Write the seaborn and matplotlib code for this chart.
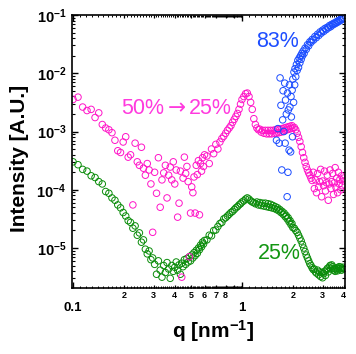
import numpy as np
import matplotlib
matplotlib.use('Agg')
import matplotlib.pyplot as plt
import seaborn as sns
from matplotlib.ticker import FixedLocator, FixedFormatter, NullFormatter, NullLocator, LogLocator

# q grid shared by the 25% and 50%->25% curves [nm^-1]
q = [0.100, 0.107, 0.114, 0.121, 0.128, 0.135, 0.142, 0.149, 0.156, 0.163,
     0.170, 0.177, 0.184, 0.191, 0.198, 0.205, 0.212, 0.219, 0.226, 0.233,
     0.240, 0.247, 0.254, 0.261, 0.268, 0.275, 0.282, 0.289, 0.296,
     0.304, 0.312, 0.320, 0.328, 0.336, 0.344, 0.352, 0.360, 0.368, 0.376,
     0.384, 0.392, 0.400, 0.408, 0.416, 0.424, 0.432, 0.440, 0.448, 0.456,
     0.464, 0.472, 0.480, 0.488, 0.496, 0.504, 0.512, 0.520, 0.528, 0.536,
     0.544, 0.552, 0.560, 0.568, 0.576, 0.584, 0.592, 0.600,
     0.62, 0.64, 0.66, 0.68, 0.70, 0.72, 0.74, 0.76, 0.78, 0.80,
     0.82, 0.84, 0.86, 0.88, 0.90, 0.92, 0.94, 0.96, 0.98, 1.00,
     1.025, 1.050, 1.075, 1.100, 1.125, 1.150, 1.175, 1.200, 1.225, 1.250,
     1.275, 1.300, 1.325, 1.350, 1.375, 1.400, 1.425, 1.450, 1.475, 1.500,
     1.525, 1.550, 1.575, 1.600, 1.625, 1.650, 1.675, 1.700, 1.725, 1.750,
     1.775, 1.800, 1.825, 1.850, 1.875, 1.900, 1.925, 1.950, 1.975, 2.000,
     2.04, 2.08, 2.12, 2.16, 2.20, 2.24, 2.28, 2.32, 2.36, 2.40,
     2.44, 2.48, 2.52, 2.56, 2.60, 2.64, 2.68, 2.72, 2.76, 2.80,
     2.84, 2.88, 2.92, 2.96, 3.00, 3.04, 3.08, 3.12, 3.16, 3.20,
     3.24, 3.28, 3.32, 3.36, 3.40, 3.44, 3.48, 3.52, 3.56, 3.60,
     3.64, 3.68, 3.72, 3.76, 3.80, 3.84, 3.88, 3.92, 3.96, 4.00]

# log10 of intensity
green_log10 = [-3.52, -3.57, -3.65, -3.68, -3.76, -3.79, -3.86, -3.90, -4.03, -4.06,
               -4.14, -4.18, -4.26, -4.31, -4.39, -4.45, -4.53, -4.56, -4.66, -4.62,
               -4.78, -4.74, -4.90, -4.86, -5.02, -5.10, -5.05, -5.20, -5.17,
               -5.28, -5.45, -5.22, -5.38, -5.50, -5.30, -5.42, -5.25, -5.36, -5.52,
               -5.30, -5.40, -5.33, -5.24, -5.38, -5.29, -5.45, -5.26, -5.32, -5.20,
               -5.28, -5.18, -5.24, -5.15, -5.22, -5.12, -5.17, -5.08, -5.13, -5.04,
               -5.09, -5.00, -5.03, -4.95, -4.98, -4.90, -4.93, -4.87,
               -4.86, -4.78, -4.79, -4.70, -4.69, -4.63, -4.58, -4.56, -4.50, -4.48,
               -4.45, -4.42, -4.39, -4.37, -4.34, -4.31, -4.29, -4.26, -4.24, -4.21,
               -4.19, -4.16, -4.14, -4.16, -4.19, -4.21, -4.22, -4.24, -4.21, -4.26,
               -4.22, -4.27, -4.23, -4.28, -4.23, -4.29, -4.24, -4.30, -4.25, -4.31,
               -4.27, -4.32, -4.29, -4.34, -4.31, -4.36, -4.34, -4.39, -4.37, -4.42,
               -4.40, -4.46, -4.44, -4.50, -4.48, -4.55, -4.53, -4.60, -4.58, -4.65,
               -4.66, -4.70, -4.73, -4.78, -4.83, -4.88, -4.94, -5.00, -5.06, -5.12,
               -5.17, -5.22, -5.27, -5.30, -5.34, -5.37, -5.36, -5.41, -5.43, -5.38,
               -5.46, -5.41, -5.49, -5.42, -5.51, -5.44, -5.40, -5.47, -5.38, -5.35,
               -5.41, -5.33, -5.30, -5.36, -5.29, -5.32, -5.38, -5.35, -5.40, -5.37,
               -5.34, -5.39, -5.35, -5.32, -5.36, -5.33, -5.38, -5.35, -5.33, -5.36]

magenta_log10 = [-2.45, -2.41, -2.58, -2.64, -2.62, -2.76, -2.68, -2.88, -2.94, -2.97,
                 -3.02, -3.15, -3.33, -3.36, -3.18, -3.09, -3.44, -3.40, -4.26, -3.20,
                 -3.52, -3.58, -3.27, -3.63, -3.75, -3.55, -3.66, -3.90, -4.73,
                 -3.70, -4.06, -3.45, -4.30, -3.83, -3.71, -3.58, -4.14, -3.75, -3.61,
                 -3.83, -3.52, -3.90, -3.66, -4.47, -4.23, -3.68, -5.50, -3.80, -3.44,
                 -3.72, -3.60, -3.86, -5.15, -4.40, -3.95, -4.05, -3.78, -4.40, -3.58,
                 -3.74, -3.50, -4.43, -3.55, -3.68, -3.45, -3.60, -3.40,
                 -3.42, -3.55, -3.30, -3.38, -3.22, -3.30, -3.18, -3.12, -3.08, -3.03,
                 -2.98, -2.94, -2.90, -2.84, -2.79, -2.74, -2.69, -2.62, -2.53, -2.45,
                 -2.40, -2.35, -2.34, -2.40, -2.50, -2.62, -2.78, -2.88, -2.94, -2.97,
                 -2.96, -3.01, -2.98, -3.03, -2.98, -3.04, -2.98, -3.04, -2.98, -3.04,
                 -2.98, -3.03, -2.97, -3.03, -2.96, -3.02, -2.96, -3.01, -2.95, -3.00,
                 -2.94, -2.98, -2.93, -2.97, -2.92, -2.96, -2.91, -2.95, -2.90, -2.94,
                 -2.93, -2.97, -3.03, -3.10, -3.17, -3.26, -3.36, -3.45, -3.53, -3.60,
                 -3.66, -3.71, -3.75, -3.80, -3.84, -3.70, -3.98, -3.83, -4.05, -3.72,
                 -3.95, -3.86, -3.65, -4.12, -3.85, -3.93, -3.68, -4.02, -3.88, -3.75,
                 -4.18, -3.90, -3.66, -3.98, -3.86, -3.72, -4.08, -3.88, -3.62, -3.96,
                 -3.80, -4.05, -3.70, -3.90, -3.82, -4.00, -3.76, -3.93, -3.85, -3.80]

blue_q = [1.60, 1.63, 1.66, 1.68, 1.70, 1.72, 1.74, 1.75, 1.77, 1.79,
          1.80, 1.81, 1.83, 1.85, 1.86, 1.87, 1.88, 1.90, 1.91, 1.92,
          1.94, 1.95, 1.96, 1.98, 1.99, 2.00, 2.02, 2.03, 2.05, 2.06,
          2.08, 2.10, 2.12, 2.14, 2.16, 2.18, 2.20, 2.22, 2.24, 2.26,
          2.28, 2.30, 2.33, 2.36, 2.40, 2.44, 2.48, 2.52, 2.56, 2.60,
          2.65, 2.70, 2.75, 2.80, 2.85, 2.90, 2.95, 3.00, 3.05, 3.10,
          3.15, 3.20, 3.25, 3.30, 3.35, 3.40, 3.45, 3.50, 3.55, 3.60,
          3.65, 3.70, 3.75, 3.80, 3.85, 3.90, 3.95, 4.00]
blue_log10 = [-3.15, -2.95, -3.20, -2.08, -2.55, -3.66, -2.80, -2.30, -3.00, -2.17,
              -3.20, -2.46, -2.70, -4.12, -2.34, -3.70, -2.63, -3.32, -2.20, -2.58,
              -3.35, -2.40, -2.75, -2.29, -3.09, -2.10, -2.50, -1.98, -2.20, -1.92,
              -2.06, -1.85, -1.95, -1.78, -1.90, -1.74, -1.82, -1.70, -1.76, -1.66,
              -1.70, -1.62, -1.66, -1.57, -1.59, -1.51, -1.53, -1.46, -1.47, -1.42,
              -1.43, -1.37, -1.39, -1.33, -1.35, -1.29, -1.31, -1.26, -1.28, -1.23,
              -1.25, -1.21, -1.22, -1.18, -1.20, -1.16, -1.17, -1.14, -1.15, -1.12,
              -1.13, -1.10, -1.11, -1.08, -1.09, -1.06, -1.07, -1.05]

assert len(q) == len(green_log10) == len(magenta_log10)
assert len(blue_q) == len(blue_log10)

series = [
    (q, green_log10, '#0a8c0a'),
    (q, magenta_log10, '#ff14c8'),
    (blue_q, blue_log10, '#1a4cff'),
]

sns.set_style('ticks')
plt.rcParams['font.family'] = ['Liberation Sans', 'DejaVu Sans']
plt.rcParams['font.weight'] = 'bold'
plt.rcParams['mathtext.fontset'] = 'custom'
plt.rcParams['mathtext.rm'] = 'Liberation Sans:bold'
plt.rcParams['mathtext.bf'] = 'Liberation Sans:bold'
plt.rcParams['mathtext.default'] = 'rm'
for key in ['text.color', 'axes.labelcolor', 'xtick.color', 'ytick.color', 'axes.edgecolor']:
    plt.rcParams[key] = 'black'

fig = plt.figure(figsize=(3.56, 3.54), dpi=100)
ax = fig.add_axes([72 / 356, 66 / 354, 273 / 356, 273 / 354])

for xs, logs, col in series:
    sns.scatterplot(x=xs, y=10 ** np.array(logs), ax=ax, marker='o', s=22,
                    facecolor='none', edgecolor=col, linewidth=0.7)

ax.set_xscale('log')
ax.set_yscale('log')
ax.set_xlim(0.0986, 4.07)
ax.set_ylim(2.06e-6, 0.1)

for s in ax.spines.values():
    s.set_linewidth(1.2)
    s.set_color('black')

# x ticks: decades low and big, 2..8 small
ax.xaxis.set_major_locator(FixedLocator([0.1, 1]))
ax.xaxis.set_major_formatter(FixedFormatter(['0.1', '1']))
minor_x = [0.2, 0.3, 0.4, 0.5, 0.6, 0.7, 0.8, 0.9, 2, 3, 4]
ax.xaxis.set_minor_locator(FixedLocator(minor_x))
ax.xaxis.set_minor_formatter(FixedFormatter(['2', '3', '4', '5', '6', '7', '8', '', '2', '3', '4']))
ax.tick_params(axis='x', which='major', direction='in', length=4, width=1,
               labelsize=9.5, pad=10, top=True)
ax.tick_params(axis='x', which='minor', direction='in', length=2.5, width=0.9,
               labelsize=6.5, pad=2.5, top=True)

ax.set_yticks([1e-5, 1e-4, 1e-3, 1e-2, 1e-1])
ax.set_yticklabels(['$10^{-5}$', '$10^{-4}$', '$10^{-3}$', '$10^{-2}$', '$10^{-1}$'])
ax.yaxis.set_minor_locator(LogLocator(base=10, subs=np.arange(2, 10), numticks=20))
ax.yaxis.set_minor_formatter(NullFormatter())
ax.tick_params(axis='y', which='major', direction='in', length=4, width=1,
               labelsize=10.5, pad=4, right=True)
ax.tick_params(axis='y', which='minor', direction='in', length=2.2, width=0.8, right=True)

# fine ticks along top and bottom
fine = list(np.arange(0.11, 0.995, 0.01)) + list(np.arange(1.1, 4.05, 0.1))
for side in ['bottom', 'top']:
    sec = ax.secondary_xaxis(side)
    sec.xaxis.set_major_locator(FixedLocator(fine))
    sec.xaxis.set_major_formatter(NullFormatter())
    sec.xaxis.set_minor_locator(NullLocator())
    sec.tick_params(direction='in', length=1.3, width=0.7, color='black')
    sec.spines[side].set_visible(False)

ax.set_xlabel('q [nm$^{-1}$]', fontsize=15, fontweight='bold')
ax.xaxis.set_label_coords(0.516, -0.11)
ax.set_ylabel('Intensity [A.U.]', fontsize=15, fontweight='bold')
ax.yaxis.set_label_coords(-0.156, 0.476)

ax.text(1.63, 0.0345, '83%', color='#1d4dff', fontsize=15.5,
        fontweight='normal', ha='center', va='center')

# "50%→25%" built from three pieces so the arrow can come from DejaVu Sans
pink = '#ff3ade'
ax.text(0.4125, 2.53e-3, '\u2192', color=pink, fontsize=15.5, fontweight='normal',
        ha='center', va='center', family='DejaVu Sans')
ax.annotate('50%', xy=(0.4125, 2.53e-3), xytext=(-9.2, 0), textcoords='offset points',
            color=pink, fontsize=15.5, fontweight='normal', ha='right', va='center')
ax.annotate('25%', xy=(0.4125, 2.53e-3), xytext=(8.6, 0), textcoords='offset points',
            color=pink, fontsize=15.5, fontweight='normal', ha='left', va='center')

ax.text(1.656, 8.2e-6, '25%', color='#129612', fontsize=15.5,
        fontweight='normal', ha='center', va='center')

fig.savefig('out.png', dpi=100)
